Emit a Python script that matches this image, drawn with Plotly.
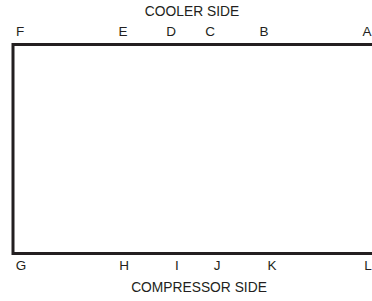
import plotly.graph_objects as go

# Diagram labels
top_labels = ["F", "E", "D", "C", "B", "A"]
top_x = [20, 123, 171, 210, 264, 367]
bottom_labels = ["G", "H", "I", "J", "K", "L"]
bottom_x = [21, 124, 177, 217, 272, 368]
top_title = "COOLER SIDE"
bottom_title = "COMPRESSOR SIDE"

# Box outline (open on the right)
box_x = [372, 13, 13, 372]
box_y = [44.5, 44.5, 253.5, 253.5]

INK = "#231f20"
FONT = "Liberation Sans, Arial, Helvetica, sans-serif"

fig = go.Figure()
fig.add_trace(go.Scatter(x=box_x, y=box_y, mode="lines",
                         line=dict(color=INK, width=3), hoverinfo="skip"))
fig.add_trace(go.Scatter(x=top_x, y=[33] * len(top_x), mode="text", text=top_labels,
                         textfont=dict(family=FONT, size=13.5, color=INK), hoverinfo="skip"))
fig.add_trace(go.Scatter(x=bottom_x, y=[267] * len(bottom_x), mode="text", text=bottom_labels,
                         textfont=dict(family=FONT, size=13.5, color=INK), hoverinfo="skip"))
fig.add_trace(go.Scatter(x=[192, 199], y=[13, 289], mode="text", text=[top_title, bottom_title],
                         textfont=dict(family=FONT, size=13.8, color=INK), hoverinfo="skip"))

fig.update_layout(
    width=372, height=301,
    margin=dict(l=0, r=0, t=0, b=0),
    paper_bgcolor="white", plot_bgcolor="white",
    showlegend=False,
    xaxis=dict(range=[0, 372], visible=False, fixedrange=True),
    yaxis=dict(range=[301, 0], visible=False, fixedrange=True),
)
fig.write_html("out.html", config={"displayModeBar": False},
               post_script="document.body.style.margin='0';document.body.style.overflow='hidden';")
